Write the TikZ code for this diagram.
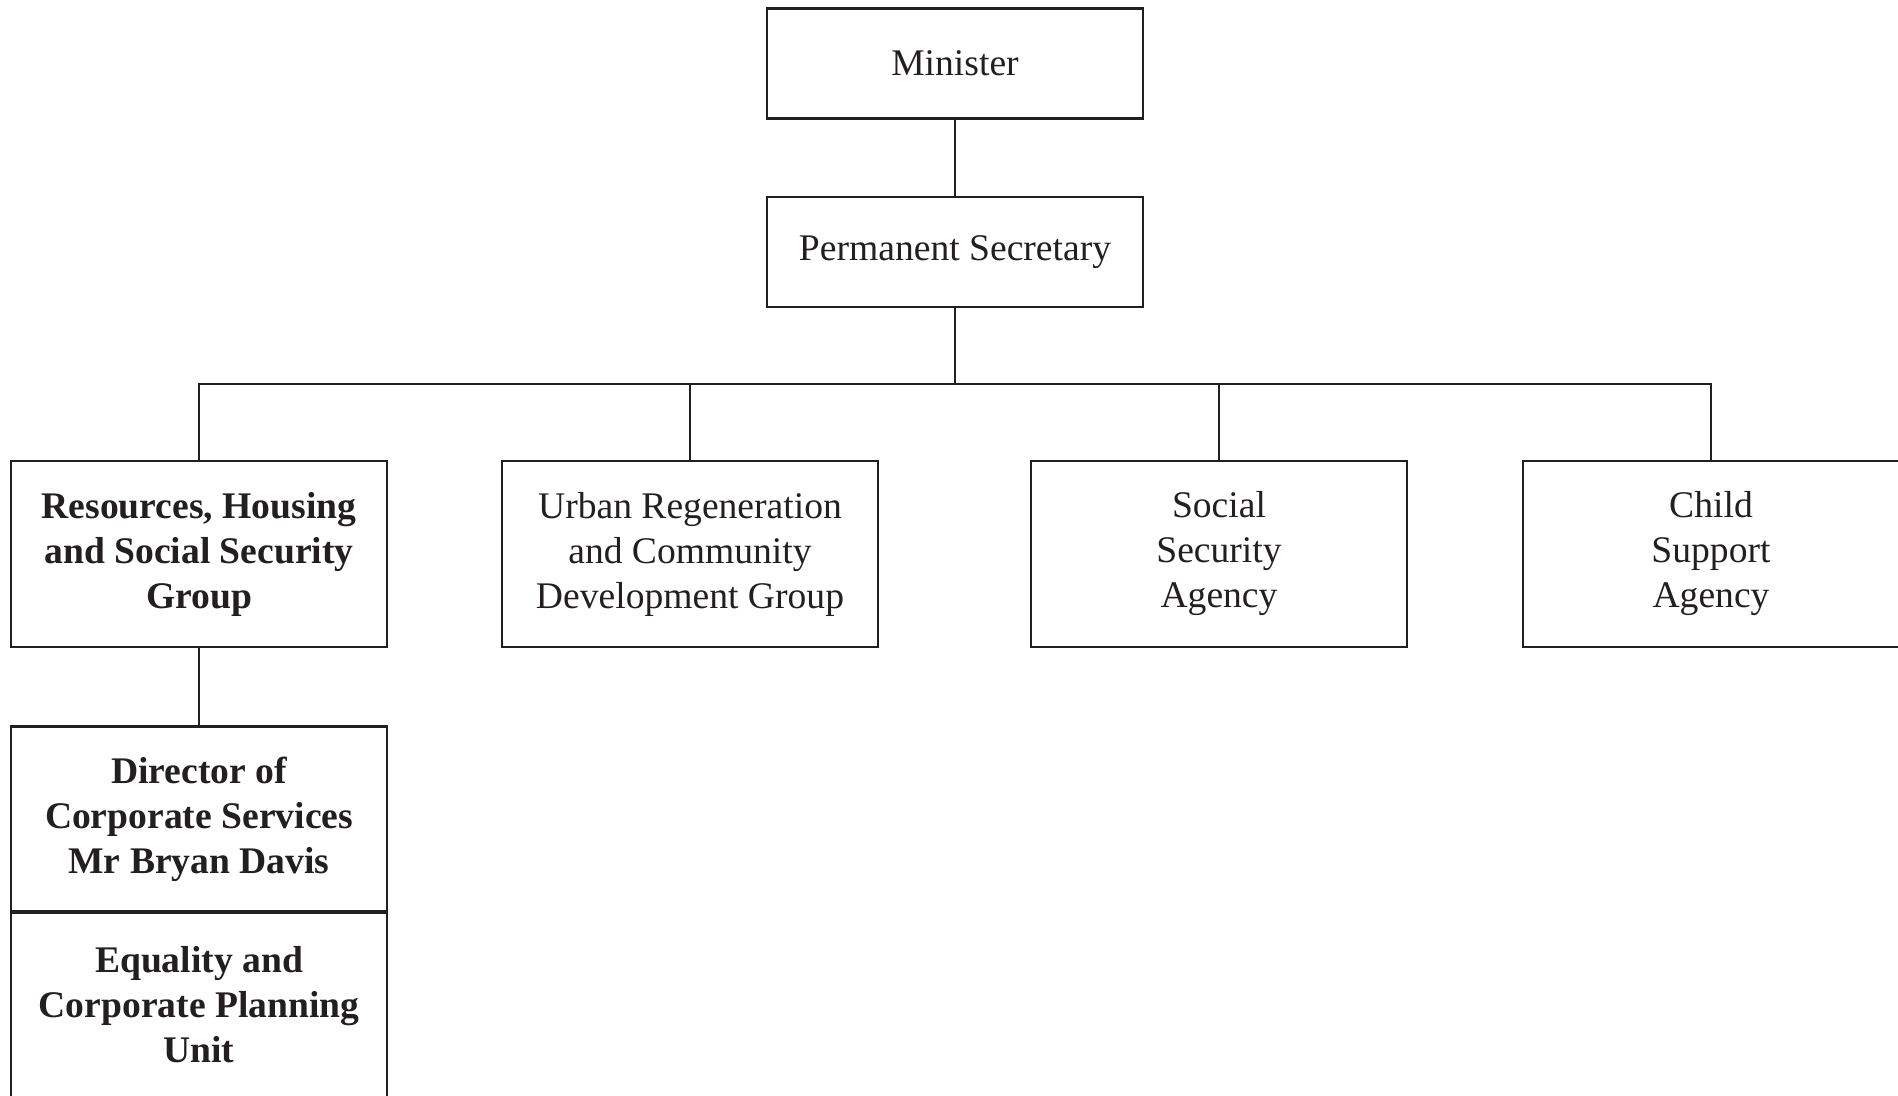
\documentclass[tikz,border=0pt]{standalone}
\usepackage{fontspec}
\setmainfont{Liberation Serif}
\usetikzlibrary{positioning}
\definecolor{ink}{HTML}{231F20}
\tikzset{
  orgbox/.style={draw=ink, text=ink, line width=1.1pt, rectangle, align=center,
    minimum width=188pt, minimum height=55pt, inner sep=0pt,
    font=\fontsize{18.8}{22.5}\selectfont},
  tallbox/.style={orgbox, minimum height=93pt},
  boldbox/.style={tallbox, font=\fontsize{18.8}{22.5}\selectfont\bfseries},
  link/.style={draw=ink, line width=1.1pt}
}
\begin{document}
\begin{tikzpicture}[x=0.5pt, y=-0.5pt]
    \useasboundingbox (0,0) rectangle (1898,1096);
    \clip (0,0) rectangle (1898,1096);

    \node [orgbox] (minister) at (955,63.5) {Minister};
    \node [orgbox] (permsec) at (955,252) {Permanent Secretary};

    \coordinate (bus) at (955,384);

    \node [boldbox] (rhss) at (199,554) {Resources, Housing\\and Social Security\\Group};
    \node [tallbox] (urcd) at (690,554) {Urban Regeneration\\and Community\\Development Group};
    \node [tallbox] (ssa) at (1219,554) {Social\\Security\\Agency};
    \node [tallbox] (csa) at (1711,554) {Child\\Support\\Agency};

    \node [boldbox] (director) at (199,819.5) {Director of\\Corporate Services\\Mr Bryan Davis};
    \node [boldbox] (equality) at (199,1004.5) {Equality and\\Corporate Planning\\Unit};

    \draw [link] (minister) -- (permsec);
    \draw [link] (permsec) -- (bus);
    \draw [link] (rhss.north) |- (bus) -| (csa.north);
    \draw [link] (urcd.north) -- (urcd.north |- bus);
    \draw [link] (ssa.north) -- (ssa.north |- bus);
    \draw [link] (rhss) -- (director);
\end{tikzpicture}
\end{document}
